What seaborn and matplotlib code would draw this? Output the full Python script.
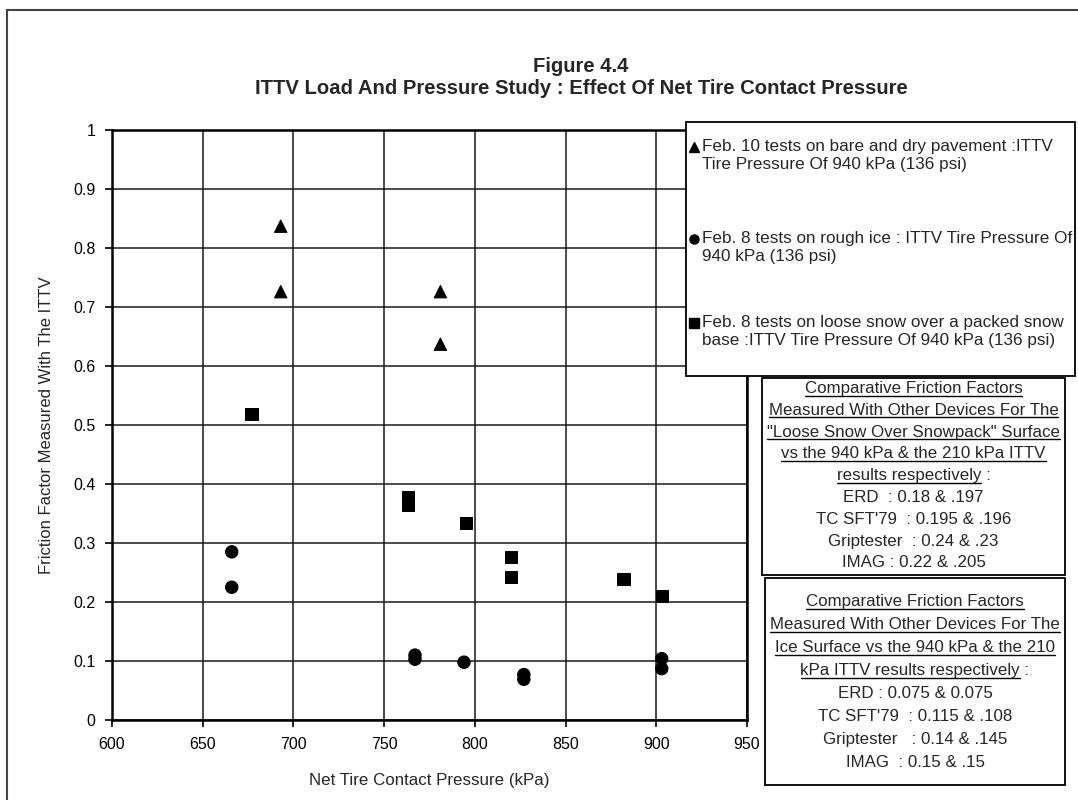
import pandas as pd
import numpy as np
import matplotlib
matplotlib.use("Agg")
import matplotlib.pyplot as plt
from matplotlib.patches import Rectangle
from matplotlib.lines import Line2D
import seaborn as sns

# Data
pavement_x = [693, 693, 781, 781]
pavement_y = [0.837, 0.726, 0.726, 0.637]

ice_x = [666, 666, 767, 767, 794, 827, 827, 903, 903]
ice_y = [0.285, 0.225, 0.110, 0.103, 0.098, 0.077, 0.069, 0.104, 0.087]

snow_x = [677, 763, 763, 795, 820, 820, 882, 903]
snow_y = [0.519, 0.378, 0.364, 0.334, 0.276, 0.242, 0.239, 0.210]

x_ticks = [600, 650, 700, 750, 800, 850, 900, 950]
y_ticks = [0, 0.1, 0.2, 0.3, 0.4, 0.5, 0.6, 0.7, 0.8, 0.9, 1]
y_tick_labels = ["0", "0.1", "0.2", "0.3", "0.4", "0.5", "0.6", "0.7", "0.8", "0.9", "1"]

legend_lines = [
    ("^", ["Feb. 10 tests on bare and dry pavement :ITTV", "Tire Pressure Of 940 kPa (136 psi)"]),
    ("o", ["Feb. 8 tests on rough ice : ITTV Tire Pressure Of", "940 kPa (136 psi)"]),
    ("s", ["Feb. 8 tests on loose snow over a packed snow", "base :ITTV Tire Pressure Of 940 kPa (136 psi)"]),
]

# (underlined part, rest of line)
snow_box = [
    ("Comparative Friction Factors", ""),
    ("Measured With Other Devices For The", ""),
    ("\"Loose Snow Over Snowpack\" Surface", ""),
    ("vs the 940 kPa & the 210 kPa ITTV", ""),
    ("results respectively", " :"),
    ("", "ERD  : 0.18 & .197"),
    ("", "TC SFT'79  : 0.195 & .196"),
    ("", "Griptester  : 0.24 & .23"),
    ("", "IMAG : 0.22 & .205"),
]
ice_box = [
    ("Comparative Friction Factors", ""),
    ("Measured With Other Devices For The", ""),
    ("Ice Surface vs the 940 kPa & the 210", ""),
    ("kPa ITTV results respectively", " :"),
    ("", "ERD : 0.075 & 0.075"),
    ("", "TC SFT'79  : 0.115 & .108"),
    ("", "Griptester   : 0.14 & .145"),
    ("", "IMAG  : 0.15 & .15"),
]

df = pd.concat([
    pd.DataFrame({"x": pavement_x, "y": pavement_y, "serie": "pavement"}),
    pd.DataFrame({"x": ice_x, "y": ice_y, "serie": "ice"}),
    pd.DataFrame({"x": snow_x, "y": snow_y, "serie": "snow"}),
], ignore_index=True)

sns.set_style("white")
plt.rcParams["font.family"] = ["Liberation Sans", "DejaVu Sans"]

W, H = 1078, 800
fig = plt.figure(figsize=(W / 100, H / 100), dpi=100)
ax = fig.add_axes([112 / W, 1 - 720 / H, (747 - 112) / W, (720 - 130) / H])


def fx(px):
    return px / W


def fy(py):
    return 1 - py / H


sns.scatterplot(data=df, x="x", y="y", style="serie",
                markers={"pavement": "^", "ice": "o", "snow": "s"},
                color="black", edgecolor="black", s=80, legend=False, ax=ax, zorder=3)

ax.set_xlim(600, 950)
ax.set_ylim(0, 1)
ax.set_xticks(x_ticks)
ax.set_yticks(y_ticks)
ax.set_yticklabels(y_tick_labels)
ax.grid(True, color="#1a1a1a", lw=1.1)
for sp in ax.spines.values():
    sp.set_visible(True)
    sp.set_color("black")
    sp.set_linewidth(1.8)
ax.tick_params(axis="both", direction="out", length=5, width=1.2, labelsize=11.5,
               colors="black", pad=7, left=True, bottom=True)
ax.set_xlabel("Net Tire Contact Pressure (kPa)", fontsize=12.2, labelpad=15)
ax.set_ylabel("Friction Factor Measured With The ITTV", fontsize=12, labelpad=14)

fig.text(fx(581), fy(67), "Figure 4.4", ha="center", va="center", fontsize=14.6, fontweight="bold")
fig.text(fx(581), fy(88), "ITTV Load And Pressure Study : Effect Of Net Tire Contact Pressure",
         ha="center", va="center", fontsize=14.6, fontweight="bold")

# page frame
fig.add_artist(Rectangle((fx(7), fy(H + 20)), fx(W + 20), (H + 10) / H, transform=fig.transFigure,
                         fill=False, edgecolor="#444444", lw=1.5))

# legend box
fig.add_artist(Rectangle((fx(686), fy(376)), fx(1075 - 686), (376 - 122) / H,
                         transform=fig.transFigure, facecolor="white", edgecolor="black", lw=1.3, zorder=5))
entry_y = [146, 238, 322]
for (mk, lines), yy in zip(legend_lines, entry_y):
    fig.add_artist(Line2D([fx(694)], [fy(yy + 1)], marker=mk, color="black", markersize=6.5,
                          transform=fig.transFigure, zorder=6))
    for i, ln in enumerate(lines):
        fig.text(fx(702), fy(yy + i * 18), ln, ha="left", va="center", fontsize=12.3, zorder=6)

renderer = fig.canvas.get_renderer()


def text_box(left, top, right, bottom, lines, y_first, step):
    fig.add_artist(Rectangle((fx(left), fy(bottom)), fx(right - left), (bottom - top) / H,
                             transform=fig.transFigure, facecolor="white", edgecolor="black",
                             lw=1.3, zorder=5))
    cx = (left + right) / 2
    for i, (under, rest) in enumerate(lines):
        yy = y_first + i * step
        t = fig.text(fx(cx), fy(yy + 5), under + rest, ha="center", va="baseline",
                     fontsize=12.2, zorder=6)
        if under:
            bb = t.get_window_extent(renderer)
            tmp = fig.text(0, 0, under, fontsize=12.2)
            wu = tmp.get_window_extent(renderer).width
            tmp.remove()
            fig.add_artist(Line2D([bb.x0 / W, (bb.x0 + wu) / W], [fy(yy + 7.5)] * 2,
                                  color="black", lw=1.0, transform=fig.transFigure, zorder=6))


text_box(762, 378, 1065, 575, snow_box, 388, 21.8)
text_box(765, 578, 1065, 785, ice_box, 601, 23)

fig.savefig("out.png", dpi=100)
